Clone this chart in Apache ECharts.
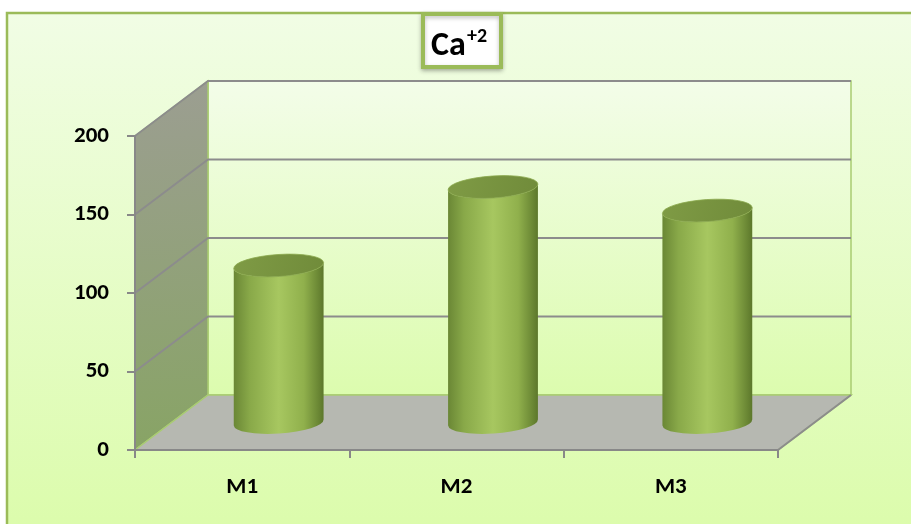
<!DOCTYPE html>
<html>
<head>
<meta charset="utf-8">
<script src="https://cdn.jsdelivr.net/npm/echarts/dist/echarts.min.js"></script>
<style>
  html, body { margin: 0; padding: 0; background: #ffffff; }
  #chart { width: 911px; height: 524px; }
</style>
</head>
<body>
<div id="chart"></div>
<script>
// Calcium concentration per site
const categories = ['M1', 'M2', 'M3'];
const caValues = [100, 150, 135];
const yTicks = [0, 50, 100, 150, 200];

// Oblique depth of the 3D box (screen pixels)
const DEPTH_X = 73;
const DEPTH_Y = -55;

const FONT = 'Carlito, Lato, "Open Sans", sans-serif';
const GRID_LINE = '#8c8c8c';
const EDGE_GREEN = '#a9cc72';

const chart = echarts.init(document.getElementById('chart'), null, { renderer: 'canvas' });

// Left wall, back wall, floor and their gridlines
function renderBox(params, api) {
  const band = api.size([1, 0])[0];
  const first = api.coord([0, yTicks[0]]);
  const last = api.coord([categories.length - 1, yTicks[0]]);
  const L = first[0] - band / 2;
  const R = last[0] + band / 2;
  const y0 = first[1];
  const yTop = api.coord([0, yTicks[yTicks.length - 1]])[1];
  const dx = DEPTH_X, dy = DEPTH_Y;
  const children = [];

  // back wall
  children.push({
    type: 'polygon',
    shape: { points: [[L + dx, yTop + dy], [R + dx, yTop + dy], [R + dx, y0 + dy], [L + dx, y0 + dy]] },
    style: {
      fill: new echarts.graphic.LinearGradient(0, 0, 0, 1, [
        { offset: 0, color: '#f3fde9' },
        { offset: 1, color: '#dcfcae' }
      ]),
      stroke: EDGE_GREEN, lineWidth: 1.5
    }
  });
  // left wall
  children.push({
    type: 'polygon',
    shape: { points: [[L, y0], [L + dx, y0 + dy], [L + dx, yTop + dy], [L, yTop]] },
    style: {
      fill: new echarts.graphic.LinearGradient(0, 0, 0.3, 1, [
        { offset: 0, color: '#9c9e92' },
        { offset: 1, color: '#88a465' }
      ]),
      stroke: EDGE_GREEN, lineWidth: 1.5
    }
  });
  // floor
  children.push({
    type: 'polygon',
    shape: { points: [[L, y0], [R, y0], [R + dx, y0 + dy], [L + dx, y0 + dy]] },
    style: { fill: '#b6b8b1', stroke: EDGE_GREEN, lineWidth: 1.5 }
  });
  // right edge of floor
  children.push({
    type: 'line',
    shape: { x1: R, y1: y0, x2: R + dx, y2: y0 + dy },
    style: { stroke: GRID_LINE, lineWidth: 2 }
  });
  // gridlines on side and back walls
  yTicks.forEach(function (v) {
    if (v === yTicks[0]) return;
    const y = api.coord([0, v])[1];
    children.push({
      type: 'polyline',
      shape: { points: [[L, y], [L + dx, y + dy], [R + dx, y + dy]] },
      style: { stroke: GRID_LINE, lineWidth: 2, fill: null }
    });
  });
  return { type: 'group', children: children };
}

// Cylinder for one value, standing at mid-depth of the box
function renderCylinder(params, api) {
  const band = api.size([1, 0])[0];
  const base = api.coord([api.value(0), 0]);
  const top = api.coord([api.value(0), api.value(1)]);
  const cx = base[0] + DEPTH_X / 2;
  const yb = base[1] + DEPTH_Y / 2;
  const yt = top[1] + DEPTH_Y / 2;
  const rx = band * 0.21;
  const ry = 11;
  const tilt = 3.8; // degrees, right side raised
  const t = tilt * Math.PI / 180;
  const a = rx * Math.cos(t), b = rx * Math.sin(t);
  const rot = -tilt;

  const body = [
    'M', cx - a, yt + b,
    'L', cx - a, yb + b,
    'A', rx, ry, rot, 0, 0, cx + a, yb - b,
    'L', cx + a, yt - b,
    'A', rx, ry, rot, 0, 1, cx - a, yt + b,
    'Z'
  ].join(' ');
  const cap = [
    'M', cx - a, yt + b,
    'A', rx, ry, rot, 0, 1, cx + a, yt - b,
    'A', rx, ry, rot, 0, 1, cx - a, yt + b,
    'Z'
  ].join(' ');

  return {
    type: 'group',
    children: [
      {
        type: 'path',
        shape: { pathData: body },
        style: {
          fill: new echarts.graphic.LinearGradient(0, 0, 1, 0, [
            { offset: 0, color: '#6a8735' },
            { offset: 0.18, color: '#89a949' },
            { offset: 0.5, color: '#a7c760' },
            { offset: 0.78, color: '#90b04c' },
            { offset: 0.93, color: '#6d8a36' },
            { offset: 1, color: '#5c772b' }
          ])
        }
      },
      {
        type: 'path',
        shape: { pathData: cap },
        style: {
          fill: new echarts.graphic.LinearGradient(0, 0, 1, 1, [
            { offset: 0, color: '#7f9b45' },
            { offset: 1, color: '#708b3a' }
          ]),
          stroke: '#8aa84c', lineWidth: 0.8
        }
      }
    ]
  };
}

const option = {
  backgroundColor: '#ffffff',
  animation: false,
  graphic: [
    {
      type: 'rect', z: -10,
      shape: { x: 7, y: 13, width: 920, height: 530 },
      style: {
        fill: new echarts.graphic.LinearGradient(0, 0, 0, 1, [
          { offset: 0, color: '#f1fde5' },
          { offset: 1, color: '#dbfcaa' }
        ]),
        stroke: '#9bbb59', lineWidth: 2.5
      }
    },
    {
      type: 'group', z: 20,
      children: [
        {
          type: 'rect',
          shape: { x: 423, y: 14, width: 78, height: 53 },
          style: {
            fill: '#ffffff', stroke: '#9bbb59', lineWidth: 4,
            shadowBlur: 4, shadowColor: 'rgba(0,0,0,0.25)', shadowOffsetY: 2
          }
        },
        {
          type: 'text',
          style: { text: 'Ca', x: 431, y: 63, fill: '#000000', font: 'bold 34px ' + FONT, textVerticalAlign: 'bottom' }
        },
        {
          type: 'text',
          style: { text: '+2', x: 467, y: 47, fill: '#000000', font: 'bold 20px ' + FONT, textVerticalAlign: 'bottom' }
        }
      ]
    }
  ],
  grid: { left: 135, right: 133, top: 136, bottom: 74, containLabel: false },
  xAxis: {
    type: 'category',
    data: categories,
    boundaryGap: true,
    z: 5,
    axisLine: { lineStyle: { color: '#888888', width: 2 } },
    axisTick: { show: true, length: 8, lineStyle: { color: '#888888', width: 2 } },
    axisLabel: { margin: 26, color: '#000000', fontWeight: 'bold', fontSize: 23, fontFamily: FONT },
    splitLine: { show: false }
  },
  yAxis: {
    type: 'value',
    min: yTicks[0],
    max: yTicks[yTicks.length - 1],
    interval: yTicks[1] - yTicks[0],
    z: 5,
    axisLine: { show: true, lineStyle: { color: '#888888', width: 2 } },
    axisTick: { show: true, length: 8, lineStyle: { color: '#888888', width: 2 } },
    axisLabel: { margin: 26, color: '#000000', fontWeight: 'bold', fontSize: 23, fontFamily: FONT },
    splitLine: { show: false }
  },
  series: [
    {
      type: 'custom',
      name: 'box',
      z: 1,
      silent: true,
      renderItem: renderBox,
      data: [[0, 0]]
    },
    {
      type: 'custom',
      name: 'Ca+2',
      z: 3,
      renderItem: renderCylinder,
      encode: { x: 0, y: 1 },
      data: caValues.map(function (v, i) { return [i, v]; })
    }
  ]
};

chart.setOption(option);
</script>
</body>
</html>
